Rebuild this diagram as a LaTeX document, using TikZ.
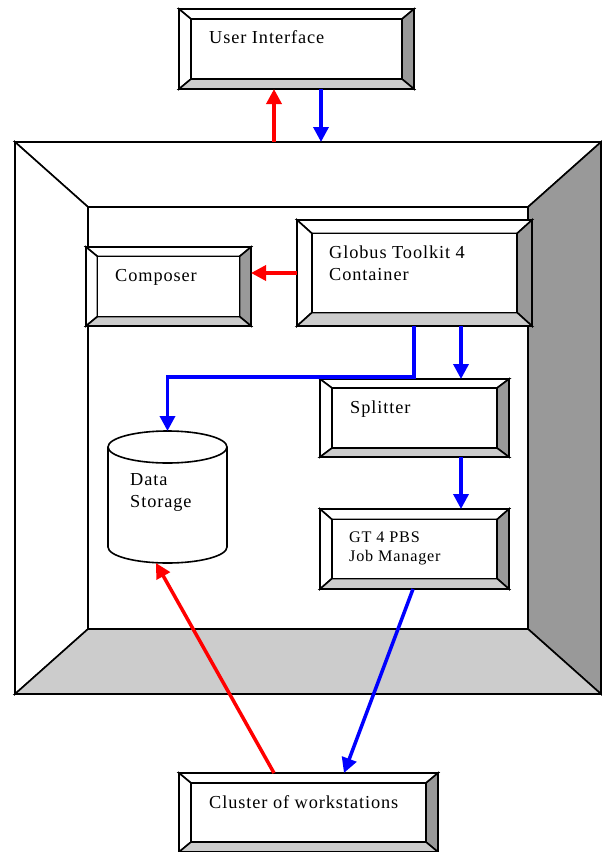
\documentclass[tikz,border=0pt]{standalone}
\usepackage{fontspec}
\setmainfont{Liberation Serif}[LetterSpace=5]
\usetikzlibrary{arrows.meta,calc}
\definecolor{bevdark}{HTML}{999999}
\definecolor{bevlight}{HTML}{CCCCCC}
\definecolor{arrred}{HTML}{FF0000}
\definecolor{arrblue}{HTML}{0000FF}

% Raised box: name, x1, y1, x2, y2, bevel width, bevel height
\newcommand\bevelbox[7]{%
  \path[bevline,fill=white] (#2,#3) -- (#4,#3) -- (#4-#6,#3+#7) -- (#2+#6,#3+#7) -- cycle;
  \path[bevline,fill=white] (#2,#3) -- (#2+#6,#3+#7) -- (#2+#6,#5-#7) -- (#2,#5) -- cycle;
  \path[bevline,fill=bevdark] (#4,#3) -- (#4,#5) -- (#4-#6,#5-#7) -- (#4-#6,#3+#7) -- cycle;
  \path[bevline,fill=bevlight] (#2,#5) -- (#4,#5) -- (#4-#6,#5-#7) -- (#2+#6,#5-#7) -- cycle;
  \path[bevline,fill=white] (#2+#6,#3+#7) rectangle (#4-#6,#5-#7);
  \node[hitbox,anchor=north west,minimum width={(#4-#2)*1pt},minimum height={(#5-#3)*1pt}] (#1) at (#2,#3) {};
}

\begin{document}
\begin{tikzpicture}[x=1pt,y=-1pt,
  bevline/.style={draw=black,line width=1.6pt,line join=miter},
  hitbox/.style={inner sep=0pt,outer sep=0pt,shape=rectangle},
  lbl/.style={anchor=base west,inner sep=0pt,font=\fontsize{18.3}{22}\selectfont},
  lblsmall/.style={lbl,font=\fontsize{16.2}{19}\selectfont},
  flow/.style={line width=3.5pt,-{Triangle[width=15pt,length=15pt]}},
  redflow/.style={flow,draw=arrred},
  blueflow/.style={flow,draw=arrblue}]

\useasboundingbox (0,0) rectangle (602,852);

% outer container
\bevelbox{frame}{15}{142}{601}{694}{73}{65}

% boxes
\bevelbox{ui}{179}{9}{414}{89}{12}{10}
\bevelbox{comp}{86}{247}{251}{326}{11.5}{9.5}
\bevelbox{gt}{297}{220}{532}{326}{15}{13.5}
\bevelbox{sp}{320}{379}{509}{457}{12}{9}
\bevelbox{pbs}{320}{509}{509}{589}{12}{10.5}
\bevelbox{cl}{179}{773}{438}{852}{12}{10}

% data storage cylinder
\path[bevline,fill=white] (108,447) -- (108,547)
  arc[start angle=180,end angle=360,x radius=59.5pt,y radius=16pt] -- (227,447);
\path[bevline,fill=white] (167.5,447) ellipse[x radius=59.5pt,y radius=16pt];
\node[hitbox,anchor=north west,minimum width=119pt,minimum height=132pt] (ds) at (108,431) {};

% labels
\node[lbl] (ui-t) at (209,43) {User Interface};
\node[lbl] (comp-t) at (115,281) {Composer};
\node[lbl] (gt-t1) at (329,258) {Globus Toolkit 4};
\node[lbl] (gt-t2) at (329,280) {Container};
\node[lbl] (sp-t) at (350,413) {Splitter};
\node[lblsmall] (pbs-t1) at (349,542) {GT 4 PBS};
\node[lblsmall] (pbs-t2) at (349,561) {Job Manager};
\node[lbl] (ds-t1) at (130,485) {Data};
\node[lbl] (ds-t2) at (130,507) {Storage};
\node[lbl] (cl-t) at (209,808) {Cluster of workstations};

% connector end points
\coordinate (gtout1) at ($(gt.south west)+(117,0)$);
\coordinate (gtout2) at ($(gt.south west)+(164,0)$);
\coordinate (spout) at ($(sp.south west)+(141,0)$);

% connectors
\draw[redflow] ($(frame.north west)+(259,0)$) -- ($(ui.south west)+(95,0)$);
\draw[blueflow] ($(ui.south west)+(142,0)$) -- ($(frame.north west)+(306,0)$);
\draw[redflow] (gt.west) -- (gt.west -| comp.east);
\draw[blueflow] (gtout1) -- ++(0,51) -| (ds.north);
\draw[blueflow] (gtout2) -- (gtout2 |- sp.north);
\draw[blueflow] (spout) -- (spout |- pbs.north);
\draw[blueflow] ($(pbs.south west)+(93,0)$) -- ($(cl.north west)+(165,0)$);
\draw[redflow] ($(cl.north west)+(95,0)$) -- ($(ds.south)+(-11.5,0)$);

\end{tikzpicture}
\end{document}
